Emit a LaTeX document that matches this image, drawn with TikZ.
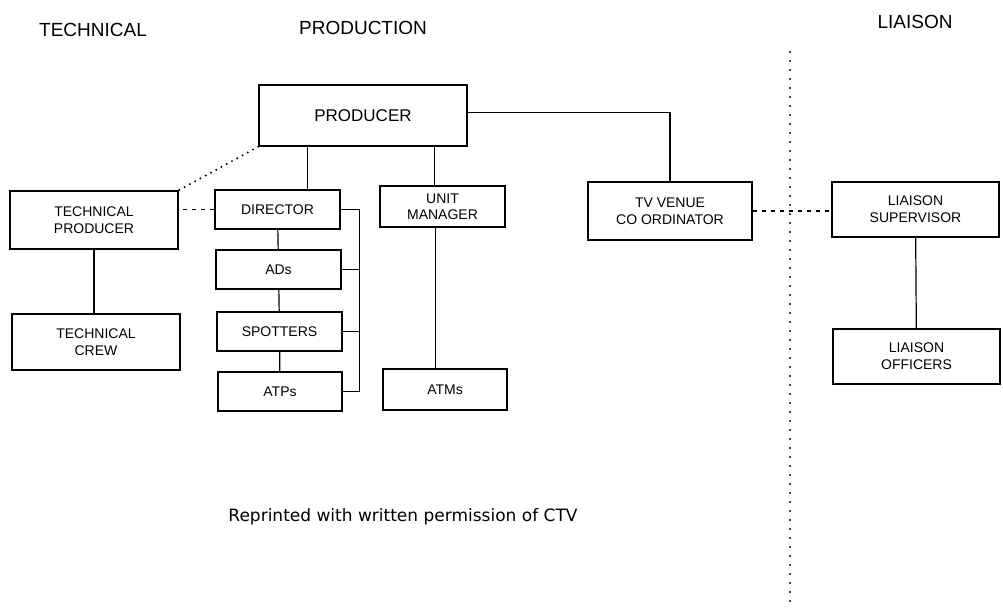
\documentclass[tikz,border=0pt]{standalone}
\usepackage{fontspec}
\setmainfont{Liberation Sans}
\newfontfamily\notefont{DejaVu Sans}
\begin{document}
\begin{tikzpicture}[x=1pt,y=-1pt,line width=1.2pt,
		box/.style={draw,line width=1.4pt,align=center,inner sep=0pt,font=\fontsize{14}{17}\selectfont},
		head/.style={font=\fontsize{19}{22}\selectfont},
		dots/.style={dash pattern=on 0pt off 6pt,line cap=round,line width=2.2pt},
		dashes/.style={dash pattern=on 4pt off 5pt}]
		\useasboundingbox (0,0) rectangle (1003,608);
		\node[head] (htech) at (93,30) {TECHNICAL};
		\node[head] (hprod) at (363,28) {PRODUCTION};
		\node[head] (hliai) at (915,22) {LIAISON};
		\node[box,minimum width=208,minimum height=61,font=\fontsize{17}{20}\selectfont] (prod) at (363,115.5) {PRODUCER};
		\node[box,minimum width=168,minimum height=58] (tp) at (94,220) {TECHNICAL\\PRODUCER};
		\node[box,minimum width=168,minimum height=56] (tc) at (96,342) {TECHNICAL\\CREW};
		\node[box,minimum width=125,minimum height=39] (dir) at (277.5,209.5) {DIRECTOR};
		\node[box,minimum width=125,minimum height=39] (ads) at (278.5,269.5) {ADs};
		\node[box,minimum width=125,minimum height=39] (spot) at (279.5,331.5) {SPOTTERS};
		\node[box,minimum width=124,minimum height=39] (atps) at (280,391.5) {ATPs};
		\node[box,minimum width=125,minimum height=41,font=\fontsize{14}{16}\selectfont] (um) at (442.5,206.5) {UNIT\\MANAGER};
		\node[box,minimum width=124,minimum height=41] (atms) at (445,389.5) {ATMs};
		\node[box,minimum width=164,minimum height=58] (tv) at (670,211) {TV VENUE\\CO ORDINATOR};
		\node[box,minimum width=167,minimum height=55] (ls) at (915.5,209.5) {LIAISON\\SUPERVISOR};
		\node[box,minimum width=167,minimum height=55] (lo) at (916.5,356.5) {LIAISON\\OFFICERS};
		\node[font=\notefont\fontsize{17}{20}\selectfont] (note) at (403,517) {Reprinted with written permission of CTV};
		\draw ([xshift=30]dir.north) -- ([xshift=30]dir.north |- prod.south);
		\draw ([xshift=-8]um.north) -- ([xshift=-8]um.north |- prod.south);
		\draw ([xshift=-7]um.south) -- ([xshift=-7]um.south |- atms.north);
		\draw ([yshift=3]prod.east) -| (tv.north);
		\draw (dir) -- (ads) -- (spot) -- (atps);
		\draw (dir.east) -- ++(19,0) coordinate (br) |- (atps.east);
		\draw (ads.east) -- (ads.east -| br);
		\draw (spot.east) -- (spot.east -| br);
		\draw (tp.south) -- (tp.south |- tc.north);
		\draw (ls) -- (lo);
		\draw[dots] (prod.south west) -- (tp.north east);
		\draw[dashes] (dir.west) -- (dir.west -| tp.east);
		\draw[dashes] (tv.east) -- (tv.east -| ls.west);
		\draw[dots,dash pattern=on 0pt off 9pt] (790,52) -- (790,608);
	\end{tikzpicture}
\end{document}
